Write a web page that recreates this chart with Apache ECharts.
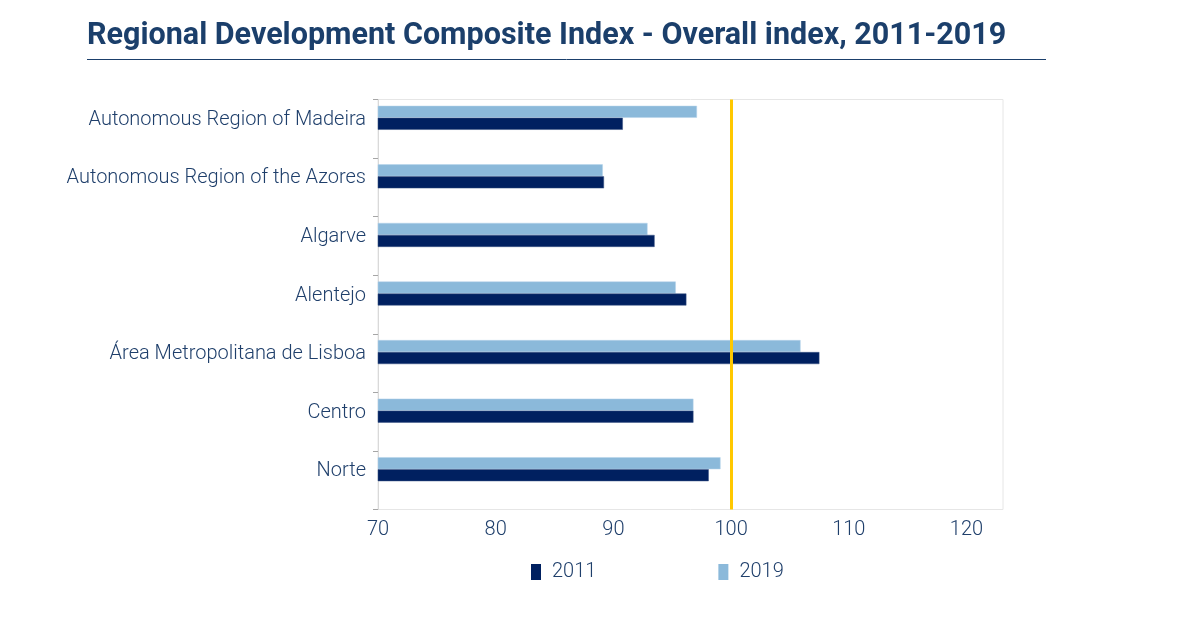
<!DOCTYPE html>
<html>
<head>
<meta charset="utf-8">
<script src="https://cdn.jsdelivr.net/npm/echarts@6/dist/echarts.min.js"></script>
<style>
  html, body { margin: 0; padding: 0; background: #fff; }
  #chart { width: 1200px; height: 628px; }
</style>
</head>
<body>
<div id="chart"></div>
<script>
// regioes, de baixo para cima (eixo de categorias do echarts)
var regions = ['Norte', 'Centro', 'Área Metropolitana de Lisboa', 'Alentejo', 'Algarve',
    'Autonomous Region of the Azores', 'Autonomous Region of Madeira'];
var index2011 = [98.1, 96.8, 107.5, 96.2, 93.5, 89.2, 90.8];
var index2019 = [99.1, 96.8, 105.9, 95.3, 92.9, 89.1, 97.1];
var referenceValue = 100;  // Portugal = 100
var xMin = 70, xMax = 123.1, xStep = 10;

var textColor = '#1f3f6b';
var darkBlue = '#002060';
var lightBlue = '#8bb9da';

var chart = echarts.init(document.getElementById('chart'));
var option = {
    animation: false,
    title: {
        text: 'Regional Development Composite Index - Overall index, 2011-2019',
        left: 82,
        top: 16,
        textStyle: {
            fontFamily: 'Roboto',
            fontWeight: 'bold',
            fontSize: 30.5,
            color: '#1b3f6b'
        }
    },
    graphic: [{
        type: 'line',
        shape: {x1: 87, y1: 59.5, x2: 1046, y2: 59.5},
        style: {stroke: '#1b3f6b', lineWidth: 1}
    }],
    legend: {
        data: ['2011', '2019'],
        bottom: 41,
        left: 526,
        itemWidth: 10,
        itemHeight: 16,
        itemGap: 122,
        icon: 'rect',
        itemStyle: {borderWidth: 0},
        textStyle: {fontFamily: 'Roboto', fontWeight: 300, fontSize: 20, color: textColor, padding: [0, 0, 0, 6]}
    },
    grid: {
        left: 378,
        right: 197,
        top: 99.5,
        bottom: 118.5,
        show: true,
        borderColor: '#e6e6e6',
        borderWidth: 1,
        containLabel: false
    },
    xAxis: {
        type: 'value',
        min: xMin,
        max: xMax,
        interval: xStep,
        splitLine: {show: false},
        axisLine: {show: false},
        axisTick: {show: false},
        axisLabel: {
            showMaxLabel: false,
            margin: 10,
            fontFamily: 'Roboto',
            fontWeight: 300,
            fontSize: 20,
            color: textColor
        }
    },
    yAxis: {
        type: 'category',
        data: regions,
        axisLine: {show: true, lineStyle: {color: '#d9d9d9'}},
        axisTick: {show: true, length: 5, lineStyle: {color: '#a6a6a6'}},
        axisLabel: {
            margin: 12,
            verticalAlign: 'bottom',  // rotulo alinhado com o par de barras
            lineHeight: 18,
            fontFamily: 'Roboto',
            fontWeight: 300,
            fontSize: 20,
            color: textColor
        }
    },
    // no eixo horizontal a primeira serie fica por cima
    series: [{
        name: '2019',
        type: 'bar',
        barWidth: 12,
        barGap: 0,
        itemStyle: {color: lightBlue, borderColor: '#b5d3ea', borderWidth: 0.5},
        data: index2019,
        markLine: {
            silent: true,
            symbol: 'none',
            label: {show: false},
            z: 10,
            lineStyle: {color: '#ffc800', width: 3, type: 'solid'},
            data: [{xAxis: referenceValue}]
        }
    }, {
        name: '2011',
        type: 'bar',
        barWidth: 12,
        barGap: 0,
        itemStyle: {color: darkBlue, borderColor: '#3a5584', borderWidth: 0.5},
        data: index2011
    }, {
        name: 'spacer',
        type: 'bar',
        barWidth: 22,
        barGap: 0,
        silent: true,
        itemStyle: {color: 'rgba(0,0,0,0)'},
        data: regions.map(function () { return '-'; })
    }]
};
chart.setOption(option);
</script>
</body>
</html>
